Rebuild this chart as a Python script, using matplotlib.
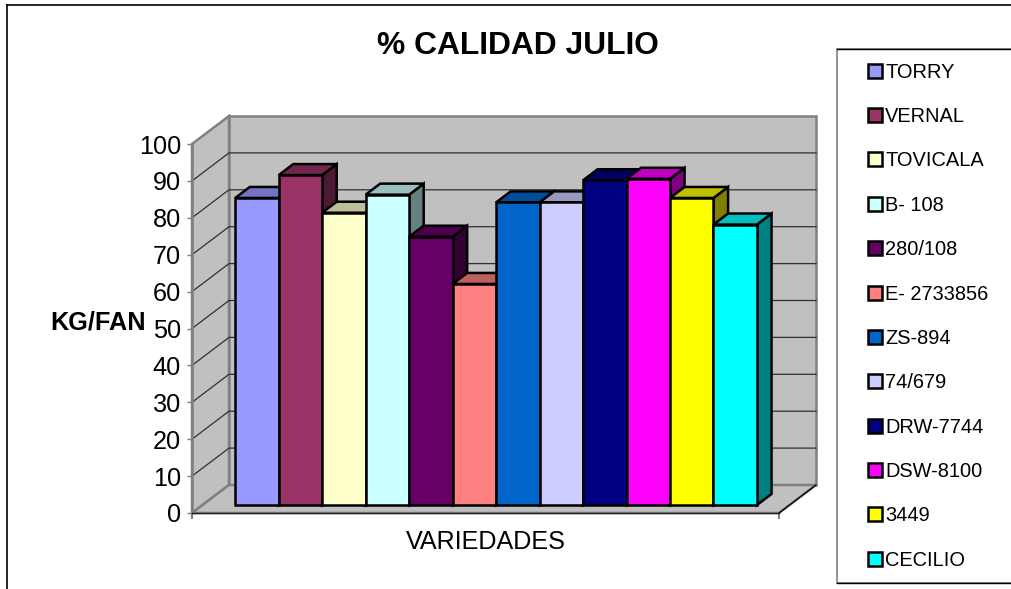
import matplotlib
matplotlib.use("Agg")
import matplotlib.pyplot as plt
from matplotlib.colors import to_rgb
from matplotlib.patches import Patch, Polygon, Rectangle

plt.rcParams["font.family"] = ["Liberation Sans", "DejaVu Sans"]

VARIETIES = ["TORRY", "VERNAL", "TOVICALA", "B- 108", "280/108", "E- 2733856",
             "ZS-894", "74/679", "DRW-7744", "DSW-8100", "3449", "CECILIO"]
VALUES = [83.2, 89.4, 79.2, 84.1, 72.7, 59.9, 82.0, 82.0, 88.0, 88.4, 83.2, 76.0]
COLORS = ["#9999FF", "#993366", "#FFFFCC", "#CCFFFF", "#660066", "#FF8080",
          "#0066CC", "#CCCCFF", "#000080", "#FF00FF", "#FFFF00", "#00FFFF"]
Y_TICKS = list(range(0, 101, 10))

W, H = 1011, 589
WALL = "#C0C0C0"
EDGE = "#808080"
GAP = 0.75
DEPTH_X = 37 / 43.48  # wall depth in bar widths
DEPTH_Y = 28 / 3.69  # wall depth in value units
BAR_FRONT, BAR_BACK = 0.286, 0.68


def project(x, v, d):
    return x + d * DEPTH_X, v + d * DEPTH_Y


def shade(color, k):
    return tuple(c * k for c in to_rgb(color))


fig = plt.figure(figsize=(W / 100, H / 100), dpi=100)
ax = fig.add_axes([192 / W, (H - 513) / H, 587 / W, 369 / H])
x0, x1 = -GAP, len(VALUES) + GAP
ax.set_xlim(x0, x1)
ax.set_ylim(0, 100)
ax.patch.set_visible(False)

# walls and floor
left_wall = [project(x0, 0, 0), project(x0, 0, 1), project(x0, 100, 1), project(x0, 100, 0)]
back_wall = [project(x0, 0, 1), project(x1, 0, 1), project(x1, 100, 1), project(x0, 100, 1)]
floor = [project(x0, 0, 0), project(x1, 0, 0), project(x1, 0, 1), project(x0, 0, 1)]
for pts in (left_wall, back_wall, floor):
    ax.add_patch(Polygon(pts, closed=True, facecolor=WALL, edgecolor=EDGE,
                         linewidth=1.8, clip_on=False, zorder=1))

# gridlines, front edge of the wall to the back and across
for v in Y_TICKS[1:-1]:
    pts = [project(x0, v, 0), project(x0, v, 1), project(x1, v, 1)]
    ax.plot([p[0] for p in pts], [p[1] for p in pts], color="#303030",
            linewidth=0.9, clip_on=False, zorder=1.5)
pts = [project(x1, 0, 0), project(x1, 0, 1)]
ax.plot([p[0] for p in pts], [p[1] for p in pts], color="black",
        linewidth=0.9, clip_on=False, zorder=1.5)

# bars, left to right so later ones sit over earlier sides
for i, (value, color) in enumerate(zip(VALUES, COLORS)):
    front = [project(i, 0, BAR_FRONT), project(i + 1, 0, BAR_FRONT),
             project(i + 1, value, BAR_FRONT), project(i, value, BAR_FRONT)]
    top = [project(i, value, BAR_FRONT), project(i + 1, value, BAR_FRONT),
           project(i + 1, value, BAR_BACK), project(i, value, BAR_BACK)]
    side = [project(i + 1, 0, BAR_FRONT), project(i + 1, 0, BAR_BACK),
            project(i + 1, value, BAR_BACK), project(i + 1, value, BAR_FRONT)]
    for pts, k in ((side, 0.5), (top, 0.75), (front, 1.0)):
        ax.add_patch(Polygon(pts, closed=True, facecolor=shade(color, k), edgecolor="black",
                             linewidth=1.8, joinstyle="miter", clip_on=False, zorder=3 + i * 0.1))

# axes
for name in ("top", "right"):
    ax.spines[name].set_visible(False)
ax.spines["left"].set_color(EDGE)
ax.spines["left"].set_linewidth(1.8)
ax.spines["bottom"].set_color("#202020")
ax.spines["bottom"].set_linewidth(1.0)
ax.set_yticks(Y_TICKS)
ax.set_xticks([x0, x1])
ax.set_xticklabels([])
ax.tick_params(axis="y", length=3.5, width=1.0, color=EDGE, labelsize=18.2, pad=4.5, labelcolor="black")
ax.tick_params(axis="x", length=4.5, width=1.5, color=EDGE)

# texts
fig.text(517.5 / W, 1 - 45.5 / H, "% CALIDAD JULIO", ha="center", va="center",
         fontsize=22.9, fontweight="bold")
fig.text(98 / W, 1 - 322.5 / H, "KG/FAN", ha="center", va="center",
         fontsize=18.2, fontweight="bold")
fig.text(486 / W, 1 - 542 / H, "VARIEDADES", ha="center", va="center", fontsize=18.1)

# page and legend borders
fig.add_artist(plt.Line2D([6.5 / W, 6.5 / W], [0, 1 - 4.5 / H], color="black", linewidth=1.2))
fig.add_artist(plt.Line2D([6.5 / W, 1], [1 - 4.5 / H, 1 - 4.5 / H], color="black", linewidth=1.2))
fig.add_artist(Rectangle((836.5 / W, 1 - 583 / H), 180 / W, 534 / H, transform=fig.transFigure,
                         facecolor="white", edgecolor=EDGE, linewidth=1.2))
fig.add_artist(plt.Line2D([836.5 / W, 1], [1 - 49 / H, 1 - 49 / H], color="black", linewidth=1.0))
fig.add_artist(plt.Line2D([836.5 / W, 1], [1 - 583 / H, 1 - 583 / H], color="black", linewidth=1.0))

handles = [Patch(facecolor=c, edgecolor="black", linewidth=1.8, label=n)
           for n, c in zip(VARIETIES, COLORS)]
legend = fig.legend(handles=handles, loc="upper left", bbox_to_anchor=(868 / W, 1 - 62.5 / H),
                    frameon=False, fontsize=14.4, borderpad=0, borderaxespad=0,
                    handlelength=0.7, handleheight=0.7, handletextpad=0.16, labelspacing=1.27)
legend.set_zorder(5)

fig.savefig("out.png", dpi=100)
plt.close(fig)
